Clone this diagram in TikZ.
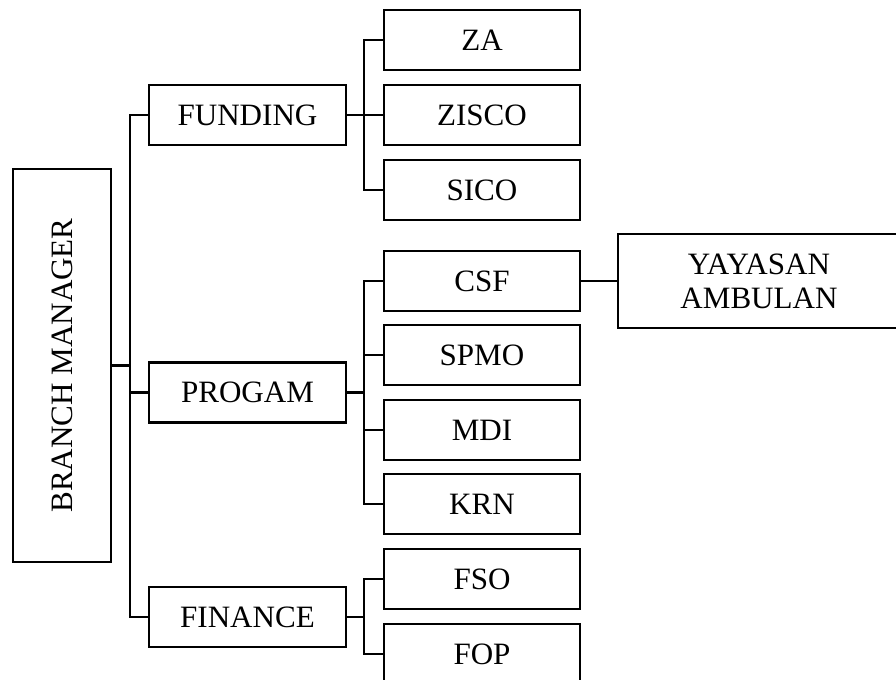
\documentclass[tikz,border=0pt]{standalone}
\usepackage{fontspec}
\setmainfont{Liberation Serif}
\begin{document}
\begin{tikzpicture}[x=0.75pt,y=-0.75pt,
  line width=1.6pt,
  box/.style={draw, rectangle, inner sep=0pt, align=center,
    font=\fontsize{23.3pt}{25.5pt}\selectfont},
  child/.style={box, minimum width=147pt, minimum height=45pt},
  group/.style={box, minimum width=147.75pt, minimum height=45pt}]
\useasboundingbox (0,0) rectangle (896,679);
\clip (0,0) rectangle (896,679);

% top of the chart
\node[box, rotate=90, minimum width=294.75pt, minimum height=73.5pt]
  (bm) at (62,365.5) {BRANCH MANAGER};

% departments
\node[group] (fund) at (247.5,115) {FUNDING};
\node[group] (prog) at (247.5,392.5) {PROGAM};
\node[group] (fin)  at (247.5,617) {FINANCE};

% units under each department
\node[child] (za)    at (482,40)  {ZA};
\node[child] (zisco) at (482,115) {ZISCO};
\node[child] (sico)  at (482,190) {SICO};
\node[child] (csf)   at (482,281) {CSF};
\node[child] (spmo)  at (482,355) {SPMO};
\node[child] (mdi)   at (482,430) {MDI};
\node[child] (krn)   at (482,504) {KRN};
\node[child] (fso)   at (482,579) {FSO};
\node[child] (fop)   at (482,654) {FOP};

\node[box, minimum width=211.5pt, minimum height=70.5pt]
  (yay) at (759,281) {YAYASAN\\AMBULAN};

% vertical buses
\coordinate (trunk) at (130,0);
\coordinate (bus) at (364,0);

% manager to departments
\draw (fund.west) -- (fund.west -| trunk) -- (fin.west -| trunk) -- (fin.west);
\draw (bm.south) -- (bm.south -| trunk);
\draw (prog.west) -- (prog.west -| trunk);

% funding units
\draw (za.west) -- (za.west -| bus) -- (sico.west -| bus) -- (sico.west);
\draw (fund.east) -- (zisco.west);

% programme units
\draw (csf.west) -- (csf.west -| bus) -- (krn.west -| bus) -- (krn.west);
\draw (prog.east) -- (prog.east -| bus);
\draw (spmo.west) -- (spmo.west -| bus);
\draw (mdi.west) -- (mdi.west -| bus);

% finance units
\draw (fso.west) -- (fso.west -| bus) -- (fop.west -| bus) -- (fop.west);
\draw (fin.east) -- (fin.east -| bus);

% CSF partner
\draw (csf.east) -- (yay.west);
\end{tikzpicture}
\end{document}
